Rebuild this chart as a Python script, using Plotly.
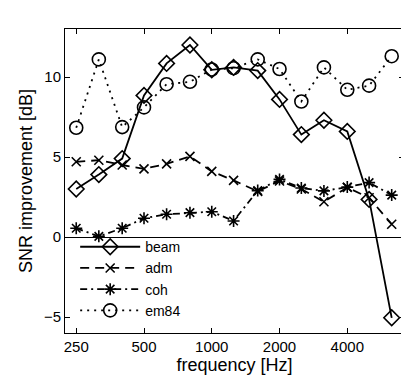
import plotly.graph_objects as go

# third-octave centre frequencies
freq = [250, 315, 400, 500, 630, 800, 1000, 1250, 1600, 2000, 2500, 3150, 4000, 5000, 6300]

# SNR improvement per method [dB]
beam = [3.0, 3.9, 4.9, 8.85, 10.85, 12.0, 10.45, 10.6, 10.4, 8.6, 6.4, 7.3, 6.6, 2.35, -5.05]
adm = [4.7, 4.8, 4.5, 4.26, 4.57, 5.04, 4.1, 3.54, 2.85, 3.5, 3.0, 2.2, 3.1, 2.45, 0.8]
coh = [0.55, 0.04, 0.55, 1.17, 1.42, 1.52, 1.58, 1.0, 2.9, 3.6, 3.06, 2.88, 3.12, 3.4, 2.62]
em84 = [6.83, 11.1, 6.87, 8.1, 9.55, 9.7, 10.47, 10.55, 11.1, 10.5, 8.47, 10.6, 9.2, 9.46, 11.3]

tick_vals = [250, 500, 1000, 2000, 4000]

font = "Liberation Sans, Arial, Helvetica, sans-serif"

fig = go.Figure()

series = [
    ("beam", beam, "solid", "diamond-open", 12),
    ("adm", adm, "9px,6px", "x-thin-open", 9),
    ("coh", coh, "7px,4px,2px,4px", "asterisk-open", 10),
    ("em84", em84, "2px,5px", "circle-open", 13),
]

for name, vals, dash, sym, size in series:
    fig.add_trace(go.Scatter(
        x=freq, y=vals, name=name, mode="lines+markers",
        line=dict(color="black", width=1.8, dash=dash),
        marker=dict(symbol=sym, size=size, color="black",
                    line=dict(color="black", width=1.6)),
    ))

fig.update_layout(
    width=409, height=376,
    margin=dict(l=57, r=13, t=21, b=46),
    paper_bgcolor="white", plot_bgcolor="white",
    font=dict(family=font, size=15, color="black"),
    showlegend=True,
    legend=dict(x=0.03, y=0.335, xanchor="left", yanchor="top",
                bgcolor="rgba(0,0,0,0)", borderwidth=0,
                font=dict(size=14), itemwidth=60, tracegroupgap=0),
)

fig.update_xaxes(
    type="log", range=[2.348, 3.854],
    tickvals=tick_vals, ticktext=[str(v) for v in tick_vals],
    ticks="inside", ticklen=5, tickcolor="black",
    showline=True, linecolor="black", linewidth=1, mirror="ticks",
    showgrid=False, zeroline=False,
    title=dict(text="frequency [Hz]", standoff=4),
    tickfont=dict(size=15),
)

fig.update_yaxes(
    range=[-6, 13],
    tickvals=[-5, 0, 5, 10], ticktext=["\u22125", "0", "5", "10"],
    ticks="inside", ticklen=5, tickcolor="black",
    showline=True, linecolor="black", linewidth=1, mirror="ticks",
    showgrid=False,
    zeroline=True, zerolinecolor="black", zerolinewidth=1,
    title=dict(text="SNR improvement [dB]", standoff=6),
    tickfont=dict(size=15),
)

fig.write_html("out.html")
